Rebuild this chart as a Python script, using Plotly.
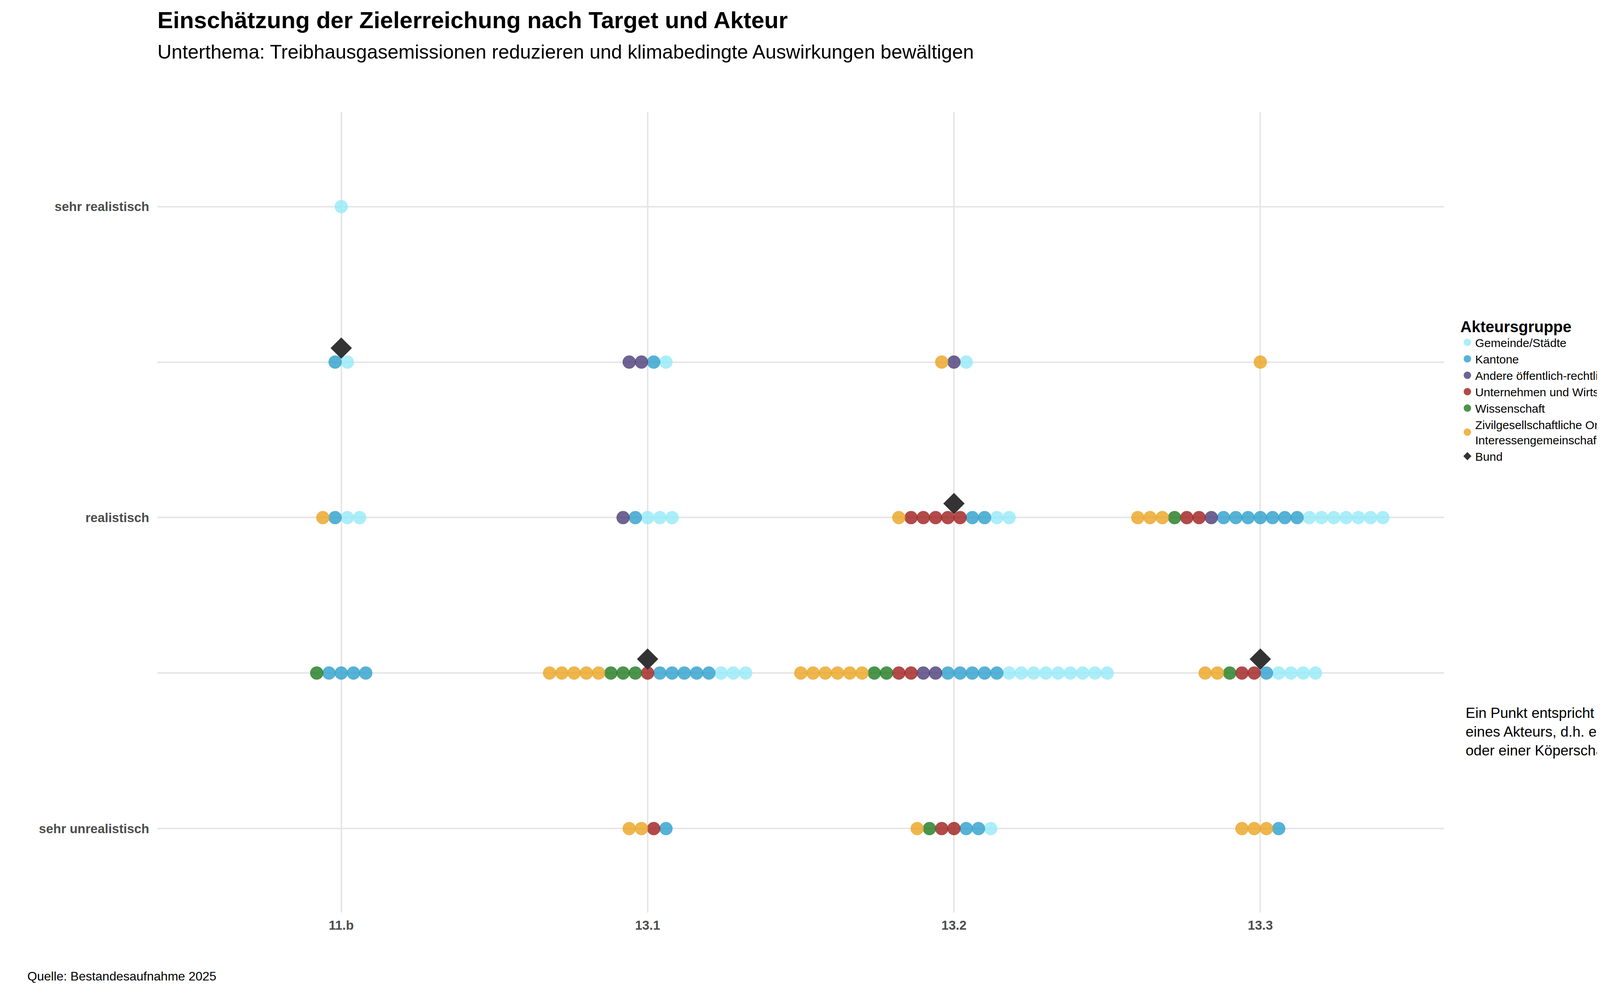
import plotly.graph_objects as go

targets = ["11.b", "13.1", "13.2", "13.3"]
levels = [1, 2, 3, 4, 5]
level_labels = ["sehr unrealistisch", "", "realistisch", "", "sehr realistisch"]
groups = ["Zivilgesellschaftliche Organisationen und<br>Interessengemeinschaften (inkl. Parteien)",
          "Wissenschaft", "Unternehmen und Wirtschaftsverbände",
          "Andere öffentlich-rechtliche Körperschaften", "Kantone", "Gemeinde/Städte"]
colors = ["#EAA520", "#1F7A1F", "#A01E1E", "#4A3D78", "#2CA0CC", "#96EAF8"]
legend_order = [5, 4, 3, 2, 1, 0]

# counts[target][level] = [Z, W, U, A, K, G]
counts = {
    "11.b": {5: [0,0,0,0,0,1], 4: [0,0,0,0,1,1], 3: [1,0,0,0,1,2], 2: [0,1,0,0,4,0], 1: [0,0,0,0,0,0]},
    "13.1": {5: [0,0,0,0,0,0], 4: [0,0,0,2,1,1], 3: [0,0,0,1,1,3], 2: [5,3,1,0,5,3], 1: [2,0,1,0,1,0]},
    "13.2": {5: [0,0,0,0,0,0], 4: [1,0,0,1,0,1], 3: [1,0,5,0,2,2], 2: [6,2,2,2,5,9], 1: [1,1,2,0,2,1]},
    "13.3": {5: [0,0,0,0,0,0], 4: [1,0,0,0,0,0], 3: [3,1,2,1,7,7], 2: [2,1,2,0,1,4], 1: [3,0,0,0,1,0]},
}
bund = {"11.b": 4, "13.1": 2, "13.2": 3, "13.3": 2}

step = 0.04
pts = {g: ([], []) for g in range(6)}
for ti, t in enumerate(targets):
    for lv, c in counts[t].items():
        seq = [g for g in range(6) for _ in range(c[g])]
        n = len(seq)
        for k, g in enumerate(seq):
            pts[g][0].append(ti + (k - (n - 1) / 2) * step)
            pts[g][1].append(lv)

fig = go.Figure()
for gi in legend_order:
    fig.add_trace(go.Scatter(x=pts[gi][0], y=pts[gi][1], mode="markers", name=groups[gi],
                             marker=dict(size=31, color=colors[gi], opacity=0.8,
                                         line=dict(color=colors[gi], width=3))))
fig.add_trace(go.Scatter(x=list(range(len(targets))), y=[bund[t] + 0.09 for t in targets],
                         mode="markers", name="Bund",
                         marker=dict(symbol="diamond", size=42, color="#333333")))

fig.update_layout(
    width=4560, height=2564, plot_bgcolor="white", paper_bgcolor="white",
    font=dict(family="Liberation Sans, Arial", color="#000"),
    margin=dict(l=395, r=871, t=278, b=237, autoexpand=False),
    title=dict(text="<b>Einschätzung der Zielerreichung nach Target und Akteur</b><br><span style='font-size:50px'>Unterthema: Treibhausgasemissionen reduzieren und klimabedingte Auswirkungen bewältigen</span>",
               x=395/4560, xanchor="left", y=0.975, yanchor="top", font=dict(size=60)),
    xaxis=dict(range=[-0.6, 3.6], tickvals=list(range(4)), ticktext=["<b>%s</b>" % t for t in targets],
               showgrid=True, gridcolor="#E6E6E6", gridwidth=4, zeroline=False, ticks="",
               tickfont=dict(size=33, color="#4D4D4D"), ticklabelstandoff=10),
    yaxis=dict(range=[0.46, 5.61], tickvals=levels, ticktext=["<b>%s</b>" % l for l in level_labels],
               showgrid=True, gridcolor="#E6E6E6", gridwidth=4, zeroline=False,
               tickfont=dict(size=33, color="#4D4D4D"), ticklabelstandoff=20),
    legend=dict(title=dict(text="<b>Akteursgruppe</b>", font=dict(size=40)), x=1.012, y=0.75,
                xanchor="left", yanchor="top", font=dict(size=30), tracegroupgap=10,
                itemsizing="trace", itemwidth=30),
)
fig.add_annotation(text="Ein Punkt entspricht der Einschätzung<br>eines Akteurs, d.h. einer Organisation<br>oder einer Köperschaft",
                   xref="paper", yref="paper", x=1.016, y=0.26, xanchor="left", yanchor="top",
                   showarrow=False, align="left", font=dict(size=37))
fig.add_annotation(text="Quelle: Bestandesaufnahme 2025", xref="paper", yref="paper",
                   x=-335/3294, y=-0.07, xanchor="left", yanchor="top",
                   showarrow=False, font=dict(size=32))
fig.write_html("out.html")
